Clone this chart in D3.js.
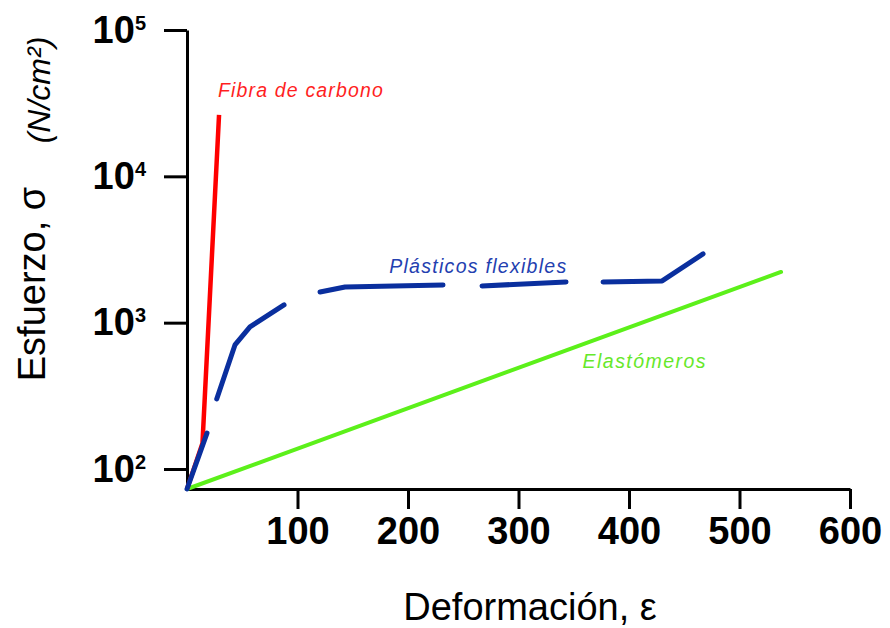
<!DOCTYPE html>
<html>
<head>
<meta charset="utf-8">
<script src="https://cdn.jsdelivr.net/npm/d3@7"></script>
<style>
  html, body { margin: 0; padding: 0; background: #fff; }
  svg { display: block; }
  text { font-family: "Liberation Sans", Arial, sans-serif; }
</style>
</head>
<body>
<svg id="chart" width="890" height="628"></svg>
<script>
// Strain (%) and stress (N/cm²) for three material families
const origin = [0, 73];
const carbonFiber = [[0, 73], [14, 150], [29, 26300]];
// NaN rows break the plastics curve into its dashed pieces
const flexiblePlastics = [
  [0, 73], [18.1, 176], [NaN, NaN],
  [26.9, 301], [43.4, 704], [57, 935], [87.8, 1321], [NaN, NaN],
  [120.4, 1621], [143, 1754], [231.7, 1810], [NaN, NaN],
  [267, 1782], [343, 1897], [NaN, NaN],
  [376.5, 1897], [430, 1928], [467, 2949]
];
const elastomers = [[0, 73], [537.6, 2221]];

const xTicks = [100, 200, 300, 400, 500, 600];
const yTicks = [1e2, 1e3, 1e4, 1e5];
const yExponents = ["2", "3", "4", "5"];

const svg = d3.select("#chart");

const x = d3.scaleLinear().domain([0, 600]).range([187, 850]);
const y = d3.scaleLog().domain([73, 1e5]).range([489, 30]);

const line = d3.line()
  .defined(d => !isNaN(d[0]))
  .x(d => x(d[0]))
  .y(d => y(d[1]));

// Axes
const xAxis = svg.append("g")
  .attr("transform", `translate(0,${y(origin[1])})`)
  .call(d3.axisBottom(x).tickValues(xTicks).tickSize(20).tickSizeOuter(0).tickPadding(8));
xAxis.selectAll("text")
  .attr("font-size", 38).attr("font-weight", "bold").attr("fill", "#000");

const yAxis = svg.append("g")
  .attr("transform", `translate(${x(origin[0])},0)`)
  .call(d3.axisLeft(y).tickValues(yTicks).tickSize(23).tickSizeOuter(0).tickPadding(18)
    .tickFormat(() => ""));
yAxis.selectAll(".tick text").each(function(d, i) {
  const t = d3.select(this)
    .attr("font-size", 38).attr("font-weight", "bold").attr("fill", "#000")
    .attr("dy", "0.32em");
  t.text("10");
  t.append("tspan").attr("font-size", 20).attr("dy", -13).text(yExponents[i]);
});

svg.selectAll(".domain, .tick line")
  .attr("stroke", "#000").attr("stroke-width", 3);

// Material curves
svg.append("path").datum(elastomers)
  .attr("d", line).attr("fill", "none")
  .attr("stroke", "#5cf01a").attr("stroke-width", 4).attr("stroke-linecap", "round");

svg.append("path").datum(carbonFiber)
  .attr("d", line).attr("fill", "none")
  .attr("stroke", "#ff0000").attr("stroke-width", 4.5).attr("stroke-linecap", "butt");

svg.append("path").datum(flexiblePlastics)
  .attr("d", line).attr("fill", "none")
  .attr("stroke", "#0a2f9e").attr("stroke-width", 5).attr("stroke-linecap", "round")
  .attr("stroke-linejoin", "round");

// Curve labels
function label(text, xv, yv, len, color) {
  svg.append("text")
    .attr("x", x(xv)).attr("y", y(yv))
    .attr("font-size", 19.5).attr("font-style", "italic")
    .attr("fill", color)
    .attr("textLength", len).attr("lengthAdjust", "spacing")
    .text(text);
}
label("Fibra de carbono", 28, 34800, 165, "#ff1f1f");
label("Plásticos flexibles", 183, 2190, 177, "#2340b0");
label("Elastómeros", 358, 490, 123, "#66e82a");

// Axis titles
svg.append("text")
  .attr("x", 530).attr("y", 620)
  .attr("text-anchor", "middle")
  .attr("font-size", 38).attr("fill", "#000")
  .text("Deformación, ε");

svg.append("text")
  .attr("transform", "translate(45,284) rotate(-90)")
  .attr("text-anchor", "middle")
  .attr("font-size", 38).attr("fill", "#000")
  .text("Esfuerzo, σ");

svg.append("text")
  .attr("transform", "translate(50,90) rotate(-90)")
  .attr("text-anchor", "middle")
  .attr("font-size", 32).attr("font-style", "italic").attr("fill", "#000")
  .text("(N/cm²)");
</script>
</body>
</html>
